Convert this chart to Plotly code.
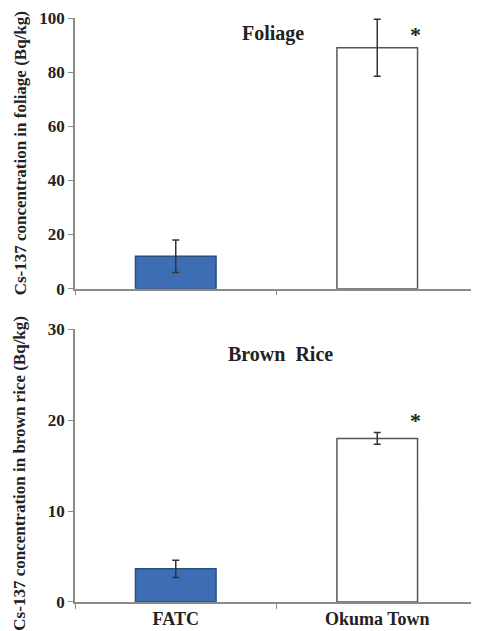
import plotly.graph_objects as go

categories = ["FATC", "Okuma Town"]
foliage_values = [12.0, 89.0]
foliage_errors = [6.0, 10.5]
rice_values = [3.65, 18.0]
rice_errors = [0.95, 0.65]
bar_colors = ["#3D6DB3", "#FFFFFF"]
bar_lines = ["#2B4E80", "#555555"]

FONT = "Liberation Serif"

fig = go.Figure()
fig.add_trace(go.Bar(
    x=categories, y=foliage_values, width=0.4,
    marker=dict(color=bar_colors, line=dict(color=bar_lines, width=1.5)),
    error_y=dict(type="data", array=foliage_errors, color="#333333", thickness=1.5, width=3.5),
    xaxis="x", yaxis="y", showlegend=False,
))
fig.add_trace(go.Bar(
    x=categories, y=rice_values, width=0.4,
    marker=dict(color=bar_colors, line=dict(color=bar_lines, width=1.5)),
    error_y=dict(type="data", array=rice_errors, color="#333333", thickness=1.5, width=3.5),
    xaxis="x2", yaxis="y2", showlegend=False,
))

axis_common = dict(showgrid=False, zeroline=False, showline=True, linecolor="#8A8A8A",
                   linewidth=1.5, ticks="outside", tickcolor="#8A8A8A", ticklen=5)
tickfont = dict(family=FONT, size=17, color="#222222", weight="bold")

# page body has an 8px margin, so the figure is offset by 8px
fig.update_layout(
    width=471, height=623,
    margin=dict(l=67, r=1, t=7, b=29),
    paper_bgcolor="white", plot_bgcolor="white",
    xaxis=dict(**axis_common, domain=[0, 1], anchor="y", tickson="boundaries",
               showticklabels=False, type="category", range=[-0.5, 1.5]),
    yaxis=dict(**axis_common, domain=[0.5366, 1], anchor="x", range=[0, 100], dtick=20,
               tickfont=tickfont),
    xaxis2=dict(**axis_common, domain=[0, 1], anchor="y2", tickson="boundaries",
                type="category", range=[-0.5, 1.5],
                tickfont=dict(family=FONT, size=18, color="#222222", weight="bold")),
    yaxis2=dict(**axis_common, domain=[0, 0.4668], anchor="x2", range=[0, 30], dtick=10,
                tickfont=tickfont),
)

ann_font = dict(family=FONT, color="#222222", weight="bold")
fig.add_annotation(text="Foliage", xref="paper", yref="paper", x=0.491, y=(602-31)/587,
                   showarrow=False, font=dict(**ann_font, size=20), xanchor="center", yanchor="middle")
fig.add_annotation(text="Brown  Rice", xref="paper", yref="paper", x=0.509, y=(602-353)/587,
                   showarrow=False, font=dict(**ann_font, size=20), xanchor="center", yanchor="middle")
fig.add_annotation(text="*", xref="x", yref="y", x=categories[1], y=94, xshift=38,
                   showarrow=False, font=dict(**ann_font, size=22), yanchor="middle")
fig.add_annotation(text="*", xref="x2", yref="y2", x=categories[1], y=20, xshift=38,
                   showarrow=False, font=dict(**ann_font, size=22), yanchor="middle")
fig.add_annotation(text="Cs-137 concentration in foliage (Bq/kg)", xref="paper", yref="paper",
                   x=(20-75)/403, y=(602-151)/587, textangle=-90, showarrow=False,
                   font=dict(**ann_font, size=17), xanchor="center", yanchor="middle")
fig.add_annotation(text="Cs-137 concentration in brown rice (Bq/kg)", xref="paper", yref="paper",
                   x=(20-75)/403, y=(602-473)/587, textangle=-90, showarrow=False,
                   font=dict(**ann_font, size=17), xanchor="center", yanchor="middle")

fig.write_html("out.html")
